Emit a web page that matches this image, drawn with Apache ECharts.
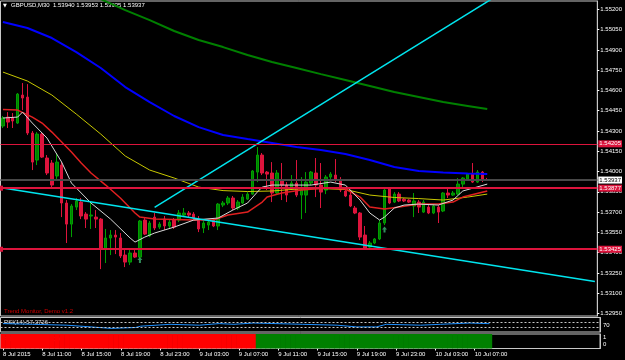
<!DOCTYPE html>
<html><head><meta charset="utf-8">
<script src="https://cdn.jsdelivr.net/npm/echarts@6/dist/echarts.min.js"></script>
<style>html,body{margin:0;padding:0;background:#000;}#c{width:625px;height:360px;}</style>
</head><body><div id="c"></div>
<script>
const symbolName = 'GBPUSD,M30';
const tickLabels = ['8 Jul 2015','8 Jul 11:00','8 Jul 15:00','8 Jul 19:00','8 Jul 23:00','9 Jul 03:00','9 Jul 07:00','9 Jul 11:00','9 Jul 15:00','9 Jul 19:00','9 Jul 23:00','10 Jul 03:00','10 Jul 07:00'];
const priceTicks = [1.52950,1.53100,1.53250,1.53400,1.53550,1.53700,1.53850,1.54000,1.54150,1.54300,1.54450,1.54600,1.54750,1.54900,1.55050,1.55200];

const opens  = [1.54337,1.54403,1.54396,1.54359,1.54566,1.54551,1.54285,1.54085,1.54277,1.54100,1.54063,1.53967,1.54048,1.53767,1.53611,1.53737,1.53774,1.53685,1.53671,1.53663,1.53648,1.53427,1.53508,1.53530,1.53508,1.53382,1.53330,1.53397,1.53367,1.53641,1.53523,1.53663,1.53589,1.53648,1.53597,1.53641,1.53641,1.53678,1.53693,1.53685,1.53648,1.53582,1.53604,1.53641,1.53597,1.53752,1.53767,1.53804,1.53730,1.53767,1.53796,1.53833,1.53996,1.54122,1.53996,1.53989,1.53841,1.53937,1.53900,1.53885,1.53915,1.53826,1.53826,1.53915,1.53989,1.53900,1.53863,1.53959,1.53974,1.53937,1.53856,1.53826,1.53730,1.53693,1.53530,1.53441,1.53471,1.53501,1.53619,1.53871,1.53774,1.53833,1.53796,1.53789,1.53745,1.53774,1.53700,1.53737,1.53693,1.53737,1.53708,1.53841,1.53826,1.53833,1.53907,1.53944,1.53981,1.53922,1.53996,1.53940];
const highs  = [1.54411,1.54440,1.54433,1.54581,1.54655,1.54647,1.54300,1.54292,1.54292,1.54122,1.54085,1.54137,1.54070,1.53789,1.53759,1.53804,1.53804,1.53700,1.53767,1.53715,1.53656,1.53575,1.53567,1.53567,1.53545,1.53419,1.53419,1.53419,1.53641,1.53656,1.53634,1.53693,1.53626,1.53671,1.53641,1.53656,1.53715,1.53730,1.53708,1.53700,1.53671,1.53634,1.53641,1.53656,1.53767,1.53782,1.53819,1.53819,1.53789,1.53833,1.53848,1.54011,1.54181,1.54137,1.54004,1.54070,1.54011,1.54063,1.53922,1.53974,1.54085,1.53959,1.53996,1.54004,1.54100,1.54063,1.53974,1.53996,1.54092,1.53959,1.53885,1.53863,1.53745,1.53700,1.53597,1.53486,1.53508,1.53641,1.53878,1.53878,1.53848,1.53848,1.53804,1.53796,1.53841,1.53789,1.53789,1.53752,1.53759,1.53752,1.53848,1.53878,1.53856,1.53952,1.53959,1.53989,1.54063,1.54011,1.54004,1.53953];
const lows   = [1.54322,1.54322,1.54322,1.54352,1.54455,1.54270,1.54011,1.54048,1.54100,1.53974,1.53885,1.53937,1.53663,1.53471,1.53515,1.53715,1.53648,1.53582,1.53575,1.53582,1.53278,1.53323,1.53382,1.53389,1.53360,1.53293,1.53308,1.53360,1.53360,1.53530,1.53515,1.53567,1.53575,1.53567,1.53582,1.53575,1.53626,1.53663,1.53663,1.53641,1.53552,1.53545,1.53567,1.53589,1.53567,1.53737,1.53752,1.53715,1.53715,1.53759,1.53789,1.53826,1.53922,1.53974,1.53863,1.53774,1.53833,1.53789,1.53774,1.53863,1.53811,1.53648,1.53693,1.53900,1.53811,1.53730,1.53833,1.53944,1.53922,1.53848,1.53811,1.53737,1.53685,1.53493,1.53427,1.53434,1.53463,1.53493,1.53604,1.53759,1.53767,1.53774,1.53774,1.53767,1.53663,1.53693,1.53693,1.53685,1.53685,1.53619,1.53700,1.53804,1.53819,1.53826,1.53885,1.53937,1.53915,1.53915,1.53922,1.53935];
const closes = [1.54396,1.54366,1.54374,1.54573,1.54544,1.54285,1.54070,1.54277,1.54107,1.53989,1.53900,1.54070,1.53767,1.53611,1.53745,1.53782,1.53671,1.53648,1.53678,1.53648,1.53427,1.53508,1.53530,1.53515,1.53375,1.53330,1.53397,1.53367,1.53634,1.53537,1.53619,1.53582,1.53611,1.53597,1.53626,1.53589,1.53693,1.53693,1.53678,1.53656,1.53575,1.53619,1.53626,1.53597,1.53759,1.53767,1.53804,1.53730,1.53774,1.53811,1.53833,1.54004,1.54122,1.53989,1.53981,1.53841,1.53989,1.53900,1.53826,1.53915,1.53826,1.53863,1.53922,1.53996,1.53900,1.53848,1.53959,1.53981,1.53937,1.53863,1.53819,1.53745,1.53693,1.53515,1.53434,1.53471,1.53501,1.53619,1.53863,1.53767,1.53833,1.53782,1.53782,1.53774,1.53782,1.53737,1.53774,1.53693,1.53745,1.53700,1.53841,1.53826,1.53841,1.53907,1.53952,1.53981,1.53922,1.53996,1.53944,1.53937];

// moving averages (bar index -> price)
const maSlowIdx   = [20,25,30,35,40,45,50,55,60,65,70,75,80,85,90,95,99];
const maSlowVals  = [1.55276,1.55195,1.55121,1.55040,1.54973,1.54921,1.54862,1.54810,1.54766,1.54721,1.54677,1.54633,1.54588,1.54551,1.54514,1.54485,1.54462];
const maIdx       = [0,5,10,15,20,25,30,35,40,45,50,55,60,65,70,75,80,85,90,95,99];
const maBlueVals  = [1.55106,1.55062,1.54988,1.54884,1.54766,1.54625,1.54514,1.54411,1.54329,1.54270,1.54240,1.54211,1.54181,1.54159,1.54130,1.54085,1.54033,1.54004,1.53992,1.53985,1.53981];
const maYellowVals= [1.54736,1.54670,1.54566,1.54425,1.54277,1.54115,1.54011,1.53952,1.53885,1.53859,1.53852,1.53856,1.53870,1.53874,1.53867,1.53826,1.53808,1.53800,1.53789,1.53811,1.53833];
const maRedIdx    = [0,3,6,8,10,12,14,16,18,21,24,27,28,31,39,43,46,50,53,54,57,61,66,70,73,75,78,81,85,89,92,94,99];
const maRedVals   = [1.54459,1.54455,1.54403,1.54359,1.54292,1.54218,1.54144,1.54063,1.53989,1.53900,1.53804,1.53693,1.53663,1.53648,1.53641,1.53641,1.53678,1.53700,1.53774,1.53811,1.53841,1.53863,1.53878,1.53871,1.53811,1.53737,1.53723,1.53737,1.53759,1.53759,1.53774,1.53811,1.53856];
const maWhiteIdx  = [0,3,4,6,9,12,14,18,22,26,27,29,31,35,39,44,47,50,52,53,55,63,67,70,73,75,77,78,80,82,85,89,92,94,99];
const maWhiteVals = [1.54396,1.54403,1.54440,1.54359,1.54248,1.54070,1.53915,1.53767,1.53648,1.53508,1.53478,1.53515,1.53545,1.53589,1.53641,1.53656,1.53715,1.53767,1.53848,1.53885,1.53900,1.53900,1.53922,1.53900,1.53789,1.53693,1.53641,1.53663,1.53730,1.53752,1.53759,1.53752,1.53789,1.53856,1.53907];

// trend lines (bar index, price) and horizontal levels
const trendDownPts = [[0,1.53878],[121,1.53187]];
const trendUpPts   = [[31,1.53734],[110,1.55503]];
const hLevelThin   = [1.54205];
const hLevelsBold  = [1.53877,1.53425];
const arrowPts     = [[28,1.53345],[78,1.53571]];

// RSI(14)
const rsiIdx  = [0,6,13,22,27,28,34,40,44,47,51,61,68,72,76,78,85,89,95,99];
const rsiVals = [58,53,47,25,31,40,53,47,58,53,62,53,47,35,35,53,47,53,62,57.3726];
const rsiLevels = [70,30];
// RSI TrendMT4 state per bar: 0 = down (red), 1 = up (green)
const trendState = [0,0,0,0,0,0,0,0,0,0, 0,0,0,0,0,0,0,0,0,0, 0,0,0,0,0,0,0,0,0,0, 0,0,0,0,0,0,0,0,0,0, 0,0,0,0,0,0,0,0,0,0, 0,0,1,1,1,1,1,1,1,1, 1,1,1,1,1,1,1,1,1,1, 1,1,1,1,1,1,1,1,1,1, 1,1,1,1,1,1,1,1,1,1, 1,1,1,1,1,1,1,1,1,1];

const N = 122;
const font = 'Liberation Sans';
const cats = [];
for (let i = 0; i < N; i++) cats.push(i % 8 === 0 && i / 8 < tickLabels.length ? tickLabels[i / 8] : '');
const candleData = opens.map((o, i) => [o, closes[i], lows[i], highs[i]]);
const pair = (idx, vals) => idx.map((x, k) => [x, vals[k]]);
const last = opens.length - 1;
const bid = closes[last];

const boxLabel = (bg, fg) => ({show: true, position: 'end', distance: 1, formatter: p => Number(p.value).toFixed(5),
  color: fg, backgroundColor: bg, fontSize: 6, fontFamily: font, padding: [1, 1, 0, 1]});

const chart = echarts.init(document.getElementById('c'));
const option = {
  backgroundColor: '#000',
  animation: false,
  grid: [
    {left: 0.5, top: 1, width: 599.5, height: 315, show: true, borderColor: '#c8c8c8', borderWidth: 1, backgroundColor: 'transparent'},
    {left: 0.5, top: 317.5, width: 599.5, height: 14.5, show: true, borderColor: '#c8c8c8', borderWidth: 1, backgroundColor: 'transparent'},
    {left: 0.5, top: 334, width: 599.5, height: 14.5, show: true, borderColor: '#c8c8c8', borderWidth: 1, backgroundColor: 'transparent'}
  ],
  xAxis: [
    {gridIndex: 0, type: 'category', data: cats, boundaryGap: true, show: false},
    {gridIndex: 1, type: 'category', data: cats, boundaryGap: true, show: false},
    {gridIndex: 2, type: 'category', data: cats, boundaryGap: true,
     axisLine: {show: false},
     axisTick: {show: true, alignWithLabel: true, length: 2, interval: (i, v) => v !== '', lineStyle: {color: '#fff'}},
     axisLabel: {interval: 0, color: '#fff', fontSize: 6, fontFamily: font, align: 'left', margin: 3}}
  ],
  yAxis: [
    {gridIndex: 0, type: 'value', position: 'right', min: 1.52931, max: 1.55262,
     splitLine: {show: false}, axisLine: {show: true, lineStyle: {color: '#c8c8c8'}},
     axisTick: {show: true, length: 2, customValues: priceTicks, lineStyle: {color: '#fff'}},
     axisLabel: {customValues: priceTicks, formatter: v => v.toFixed(5), color: '#fff', fontSize: 6, fontFamily: font, margin: 3}},
    {gridIndex: 1, type: 'value', position: 'right', min: 0, max: 100,
     splitLine: {show: false}, axisLine: {show: true, lineStyle: {color: '#c8c8c8'}},
     axisTick: {show: false},
     axisLabel: {customValues: [100, 70, 30], color: '#fff', fontSize: 6, fontFamily: font, margin: 3, verticalAlign: 'top'}},
    {gridIndex: 2, type: 'value', position: 'right', min: 0, max: 1,
     splitLine: {show: false}, axisLine: {show: true, lineStyle: {color: '#c8c8c8'}},
     axisTick: {show: false},
     axisLabel: {customValues: [0.26, 0.74], formatter: v => (v > 0.5 ? '1' : '0'), color: '#fff', fontSize: 6, fontFamily: font, margin: 3}}
  ],
  series: [
    {type: 'candlestick', xAxisIndex: 0, yAxisIndex: 0, data: candleData, barWidth: 3, z: 2,
     itemStyle: {color: '#008000', color0: '#dc143c', borderColor: '#00a000', borderColor0: '#dc143c', borderWidth: 1},
     markLine: {silent: true, symbol: ['none', 'none'], animation: false, precision: 5,
       data: [
         {yAxis: bid, lineStyle: {color: '#484848', width: 2, type: 'solid'}, label: boxLabel('#ffffff', '#000')},
         {yAxis: hLevelThin[0], lineStyle: {color: '#dc143c', width: 1, type: 'solid'}, label: boxLabel('#dc143c', '#fff')},
         {yAxis: hLevelsBold[0], symbol: ['rect', 'rect'], symbolSize: 5, lineStyle: {color: '#dc143c', width: 2, type: 'solid'}, label: boxLabel('#dc143c', '#fff')},
         {yAxis: hLevelsBold[1], symbol: ['rect', 'rect'], symbolSize: 5, lineStyle: {color: '#dc143c', width: 2, type: 'solid'}, label: boxLabel('#dc143c', '#fff')}
       ]}},
    {type: 'line', xAxisIndex: 0, yAxisIndex: 0, data: pair(maSlowIdx, maSlowVals), showSymbol: false, z: 3, lineStyle: {color: '#008000', width: 2}},
    {type: 'line', xAxisIndex: 0, yAxisIndex: 0, data: pair(maIdx, maBlueVals), showSymbol: false, z: 3, lineStyle: {color: '#0000ff', width: 2}},
    {type: 'line', xAxisIndex: 0, yAxisIndex: 0, data: pair(maIdx, maYellowVals), showSymbol: false, z: 3, lineStyle: {color: '#c8c800', width: 1}},
    {type: 'line', xAxisIndex: 0, yAxisIndex: 0, data: pair(maRedIdx, maRedVals), showSymbol: false, z: 3, lineStyle: {color: '#e02020', width: 1.5}},
    {type: 'line', xAxisIndex: 0, yAxisIndex: 0, data: pair(maWhiteIdx, maWhiteVals), showSymbol: false, z: 3, lineStyle: {color: '#d8d8d8', width: 1}},
    {type: 'line', xAxisIndex: 0, yAxisIndex: 0, data: trendDownPts, showSymbol: false, z: 4, lineStyle: {color: '#00e5ee', width: 1.5}},
    {type: 'line', xAxisIndex: 0, yAxisIndex: 0, data: trendUpPts, showSymbol: false, z: 4, lineStyle: {color: '#00e5ee', width: 1.5}},
    {type: 'scatter', xAxisIndex: 0, yAxisIndex: 0, data: arrowPts, z: 5,
     symbol: 'path://M5,0 L10,5 L7,5 L7,10 L3,10 L3,5 L0,5 Z', symbolSize: [5, 6], itemStyle: {color: '#3cb371'}},
    {type: 'line', xAxisIndex: 1, yAxisIndex: 1, data: pair(rsiIdx, rsiVals), showSymbol: false, lineStyle: {color: '#1e90ff', width: 1},
     markLine: {silent: true, symbol: ['none', 'none'], label: {show: false},
       data: rsiLevels.map(v => ({yAxis: v})), lineStyle: {color: '#c8c8c8', width: 1, type: [2, 2]}}},
    {type: 'bar', xAxisIndex: 2, yAxisIndex: 2, barWidth: 5.5, barGap: '-100%',
     data: trendState.map(s => ({value: 1, itemStyle: {color: s ? '#008000' : '#ff0000'}}))}
  ],
  graphic: [
    {type: 'text', left: 3, top: 3, style: {text: '▼', fill: '#fff', font: '5px "DejaVu Sans"'}},
    {type: 'text', left: 11, top: 2, style: {text: symbolName + '  ' + [opens[last], highs[last], lows[last], closes[last]].map(v => v.toFixed(5)).join(' '), fill: '#fff', font: '6px "Liberation Sans"'}},
    {type: 'text', left: 4, top: 308, style: {text: 'Trend Monitor, Demo v1.2', fill: '#d00000', font: '6px "Liberation Sans"'}},
    {type: 'text', left: 4, top: 319, style: {text: 'RSI(14) ' + rsiVals[rsiVals.length - 1].toFixed(4), fill: '#e0e0e0', font: '6px "Liberation Sans"'}},
    {type: 'text', left: 4, top: 336, style: {text: 'RSI TrendMT4 1.0000', fill: '#fff', font: '6px "Liberation Sans"'}}
  ]
};
chart.setOption(option);
</script>
</body></html>
